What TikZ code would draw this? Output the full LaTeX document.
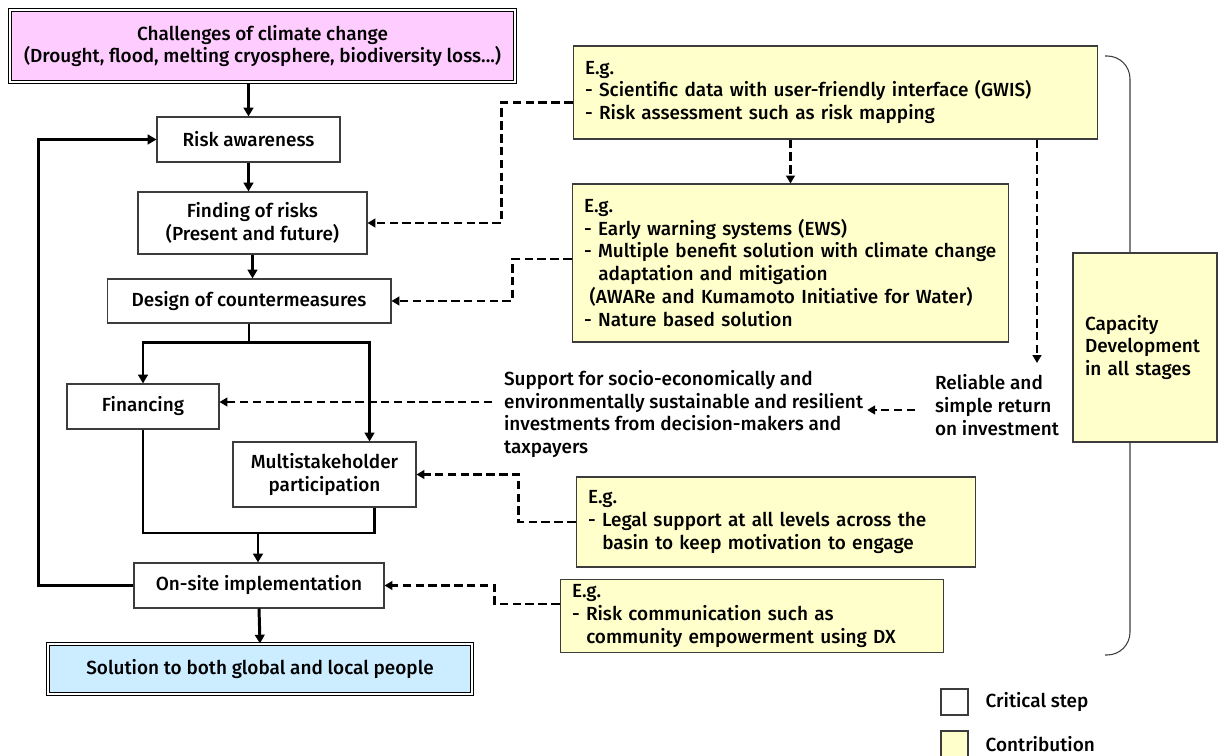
\documentclass[tikz,border=0pt]{standalone}
\usepackage{fontspec}
\setmainfont{Fira Sans}[UprightFont={* Medium}]
\usepackage{xcolor}
\usepackage{tikz}
\usetikzlibrary{positioning,arrows.meta,calc}
\definecolor{threatpink}{RGB}{255,204,255}
\definecolor{goalblue}{RGB}{204,236,255}
\definecolor{contribyellow}{RGB}{255,255,204}
\definecolor{edgegray}{RGB}{60,60,60}
\newcommand{\figfont}{\fontsize{10.8}{13}\selectfont}
\tikzset{
  step-node/.style={draw=edgegray, line width=0.6pt, fill=white,
    font=\figfont, align=center, inner sep=3pt},
  end-node/.style={draw=black, line width=0.6pt, double=white, double distance=1.1pt,
    font=\figfont, align=center, inner sep=3pt},
  contrib-node/.style={draw=edgegray, line width=0.6pt, fill=contribyellow,
    font=\figfont, align=left, inner xsep=0.24cm, inner ysep=3pt},
  plain-text/.style={font=\figfont, align=left, inner sep=1pt},
  flow-line/.style={line width=1.7pt, draw=black},
  flow-arrow/.style={flow-line, -{Triangle[length=5pt,width=5.5pt]}},
  dash-arrow/.style={line width=1.6pt, draw=black, dash pattern=on 4.8pt off 2.5pt,
    -{Triangle[length=4.5pt,width=5pt]}},
  brace-line/.style={draw=edgegray, line width=0.6pt, rounded corners=13pt},
  key-box/.style={draw=edgegray, line width=0.6pt, minimum width=0.54cm, minimum height=0.52cm}
}

\begin{document}
\begin{tikzpicture}[x=0.02cm, y=-0.02cm]
\useasboundingbox (0,0) rectangle (1218,756);

% critical steps
\node[end-node, fill=threatpink, minimum width=10.1cm, minimum height=1.44cm]
  (chal) at (262.5,46) {Challenges of climate change\\(Drought, flood, melting cryosphere, biodiversity loss...)};
\node[step-node, minimum width=3.66cm, minimum height=0.9cm] (risk) at (248.5,139.5) {Risk awareness};
\node[step-node, minimum width=4.58cm, minimum height=1.24cm] (find) at (252.5,223) {Finding of risks\\(Present and future)};
\node[step-node, minimum width=5.68cm, minimum height=0.88cm] (design) at (249,301) {Design of countermeasures};
\node[step-node, minimum width=3.04cm, minimum height=0.9cm] (fin) at (143,406.5) {Financing};
\node[step-node, minimum width=3.66cm, minimum height=1.3cm] (multi) at (324.5,474.5) {Multistakeholder\\participation};
\node[step-node, minimum width=5.0cm, minimum height=0.9cm] (onsite) at (259,585.5) {On-site implementation};
\node[end-node, fill=goalblue, minimum width=8.48cm, minimum height=1.0cm] (sol) at (260,669) {Solution to both global and local people};

% contributions
\node[contrib-node, minimum width=10.5cm, minimum height=1.86cm, text width=10.02cm] (gwis) at (835.5,92.5)
  {E.g.\\- Scientific data with user-friendly interface (GWIS)\\- Risk assessment such as risk mapping};
\node[contrib-node, minimum width=8.74cm, minimum height=3.16cm, text width=8.26cm] (ews) at (790.5,263)
  {E.g.\\- Early warning systems (EWS)\\- Multiple benefit solution with climate change\\\hspace*{0.75em}adaptation and mitigation\\\hspace*{0.3em}(AWARe and Kumamoto Initiative for Water)\\- Nature based solution};
\node[contrib-node, minimum width=8.0cm, minimum height=1.8cm, text width=7.52cm] (legal) at (776,522)
  {E.g.\\- Legal support at all levels across the\\\hspace*{0.75em}basin to keep motivation to engage};
\node[contrib-node, minimum width=7.68cm, minimum height=1.44cm, text width=7.2cm] (comm) at (752,616)
  {E.g.\\- Risk communication such as\\\hspace*{0.75em}community empowerment using DX};
\node[plain-text, anchor=west] (supp) at (502,414)
  {Support for socio-economically and\\environmentally sustainable and resilient\\investments from decision-makers and\\taxpayers};
\node[plain-text, anchor=west] (roi) at (933,405) {Reliable and\\simple return\\on investment};
\coordinate (roi-top) at (1037,363);

% capacity development bracket
\draw[brace-line] (1105,56) -| (1130,655) -- (1105,655);
\node[contrib-node, minimum width=2.88cm, minimum height=3.78cm, text width=2.4cm] (cap) at (1145,347.5)
  {Capacity\\Development\\in all stages};

% main flow
\draw[flow-arrow] (chal.south -| risk.north) -- (risk.north);
\draw[flow-arrow] (risk.south) -- (risk.south |- find.north);
\draw[flow-arrow] (find.south) -- (find.south |- design.north);
\coordinate (split) at ($(design.south)+(0,19)$);
\draw[flow-line] (design.south) -- (split);
\draw[flow-arrow] (split) -| (fin.north);
\draw[flow-arrow] (split) -| ($(multi.north east)+(-47,0)$);
\coordinate (join) at (258,533);
\draw[flow-line] (fin.south) |- (join);
\draw[flow-line] ($(multi.south east)+(-42,0)$) |- (join);
\draw[flow-arrow] (join) -- (onsite.north -| join);
\draw[flow-arrow] (onsite.south) -- (sol.north);
\draw[flow-arrow] (onsite.west) -- ++(-95,0) |- (risk.west);

% contribution links
\draw[dash-arrow] ($(gwis.west)+(0,10)$) -- ++(-71,0) |- (find.east);
\draw[dash-arrow] (ews.north |- gwis.south) -- (ews.north);
\draw[dash-arrow] (roi-top |- gwis.south) -- (roi-top);
\draw[dash-arrow] ($(ews.west)+(0,-4)$) -- ++(-59,0) |- (design.east);
\draw[dash-arrow] ($(roi.west)+(-18,5)$) -- ($(supp.east)+(2,-4)$);
\draw[dash-arrow] ($(supp.west)+(-10,-12)$) -- (fin.east |- {$(supp.west)+(0,-12)$});
\draw[dash-arrow] (legal.west) -- ++(-57,0) |- (multi.east);
\draw[dash-arrow] ($(comm.west)+(0,-12)$) -- ++(-65,0) |- (onsite.east);

% legend
\node[key-box, fill=white] (key-step) at (954.5,702) {};
\node[plain-text, anchor=west, right=0.3cm of key-step] {Critical step};
\node[key-box, fill=contribyellow] (key-contrib) at (954.5,744) {};
\node[plain-text, anchor=west, right=0.3cm of key-contrib] {Contribution};
\end{tikzpicture}
\end{document}
